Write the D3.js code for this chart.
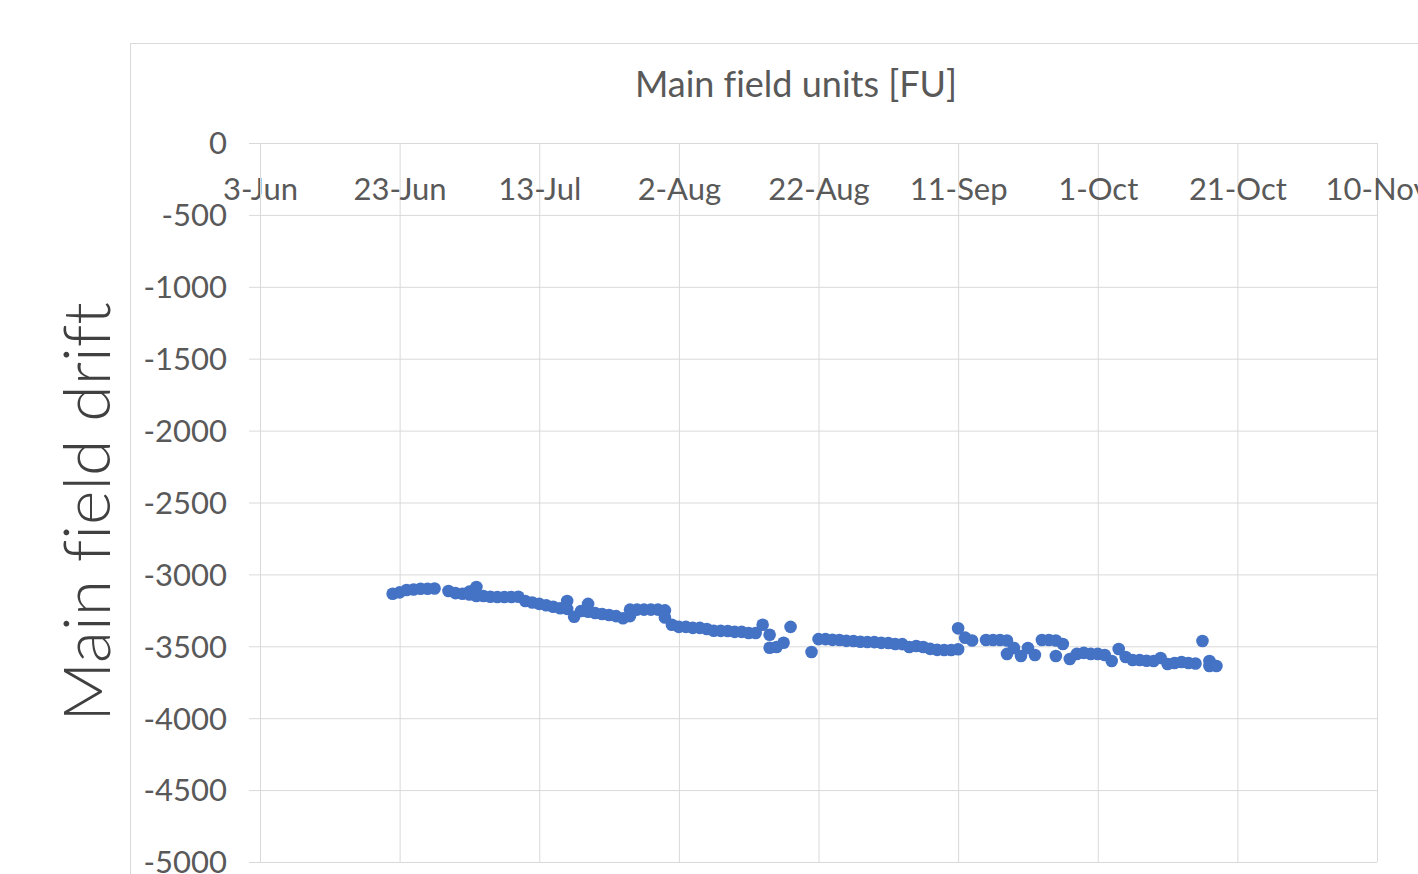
<!DOCTYPE html>
<html>
<head>
<meta charset="utf-8">
<script src="https://cdn.jsdelivr.net/npm/d3@7"></script>
<style>
  html, body { margin: 0; padding: 0; background: #ffffff; }
  svg { display: block; }
  text { font-variant-ligatures: none; }
</style>
</head>
<body>
<script>
// ---- data ----
const chartTitle = "Main field units [FU]";
const yAxisTitle = "Main field drift";
const dates = [
  "2021-06-22","2021-06-23","2021-06-24","2021-06-25","2021-06-26","2021-06-27","2021-06-28",
  "2021-06-30","2021-07-01","2021-07-02","2021-07-03","2021-07-03","2021-07-04","2021-07-04",
  "2021-07-05","2021-07-06","2021-07-07","2021-07-08","2021-07-09","2021-07-10","2021-07-11",
  "2021-07-12","2021-07-13","2021-07-14","2021-07-15","2021-07-16","2021-07-17","2021-07-17",
  "2021-07-18","2021-07-19","2021-07-20","2021-07-20","2021-07-21","2021-07-22","2021-07-23",
  "2021-07-24","2021-07-25","2021-07-26","2021-07-26","2021-07-27","2021-07-28","2021-07-29",
  "2021-07-30","2021-07-31","2021-07-31","2021-08-01","2021-08-02","2021-08-03","2021-08-04",
  "2021-08-05","2021-08-06","2021-08-07","2021-08-08","2021-08-09","2021-08-10","2021-08-11",
  "2021-08-12","2021-08-13","2021-08-14","2021-08-15","2021-08-15","2021-08-16","2021-08-17",
  "2021-08-18","2021-08-21","2021-08-22","2021-08-23","2021-08-24","2021-08-25","2021-08-26",
  "2021-08-27","2021-08-28","2021-08-29","2021-08-30","2021-08-31","2021-09-01","2021-09-02",
  "2021-09-03","2021-09-04","2021-09-05","2021-09-06","2021-09-07","2021-09-08","2021-09-09",
  "2021-09-10","2021-09-11","2021-09-11","2021-09-12","2021-09-13","2021-09-15","2021-09-16",
  "2021-09-17","2021-09-18","2021-09-18","2021-09-19","2021-09-20","2021-09-21","2021-09-22",
  "2021-09-23","2021-09-24","2021-09-25","2021-09-25","2021-09-26","2021-09-27","2021-09-28",
  "2021-09-29","2021-09-30","2021-10-01","2021-10-02","2021-10-03","2021-10-04","2021-10-05",
  "2021-10-06","2021-10-07","2021-10-08","2021-10-09","2021-10-10","2021-10-11","2021-10-12",
  "2021-10-13","2021-10-14","2021-10-15","2021-10-16","2021-10-17","2021-10-17","2021-10-18"
];
const drift = [
  -3135,-3125,-3108,-3105,-3100,-3100,-3098,
  -3115,-3130,-3135,-3120,-3140,-3088,-3150,
  -3150,-3155,-3157,-3157,-3157,-3155,-3185,
  -3195,-3205,-3215,-3225,-3235,-3185,-3240,
  -3295,-3255,-3205,-3260,-3268,-3275,-3282,
  -3290,-3305,-3245,-3290,-3245,-3245,-3245,
  -3245,-3250,-3300,-3350,-3365,-3365,-3372,
  -3372,-3380,-3392,-3393,-3394,-3400,-3400,
  -3407,-3408,-3350,-3420,-3510,-3505,-3475,
  -3365,-3540,-3450,-3450,-3455,-3456,-3462,
  -3463,-3468,-3470,-3471,-3476,-3477,-3484,
  -3485,-3505,-3498,-3505,-3518,-3525,-3526,
  -3526,-3520,-3375,-3440,-3460,-3456,-3456,
  -3456,-3460,-3553,-3512,-3567,-3512,-3560,
  -3456,-3456,-3460,-3567,-3484,-3588,-3553,
  -3546,-3553,-3553,-3560,-3602,-3519,-3574,
  -3595,-3595,-3600,-3602,-3581,-3623,-3616,
  -3609,-3616,-3620,-3463,-3602,-3637,-3637
];
const xTickDates = ["2021-06-03","2021-06-23","2021-07-13","2021-08-02","2021-08-22","2021-09-11","2021-10-01","2021-10-21","2021-11-10"];
const xTickLabels = ["3-Jun","23-Jun","13-Jul","2-Aug","22-Aug","11-Sep","1-Oct","21-Oct","10-Nov"];
const yTickValues = [0,-500,-1000,-1500,-2000,-2500,-3000,-3500,-4000,-4500,-5000];
const yTickLabels = ["0","-500","-1000","-1500","-2000","-2500","-3000","-3500","-4000","-4500","-5000"];

// ---- layout ----
const W = 1418, H = 874;
const parse = d3.utcParse("%Y-%m-%d");
const svg = d3.select("body").append("svg").attr("width", W).attr("height", H);

const x = d3.scaleUtc()
  .domain([parse(xTickDates[0]), parse(xTickDates[xTickDates.length - 1])])
  .range([260, 1377]);
const y = d3.scaleLinear().domain([-5000, 0]).range([862, 143]);

const textColor = "#595959";
const gridColor = "#d9d9d9";
const font = "Lato, 'Open Sans', sans-serif";

// outer chart border
svg.append("rect")
  .attr("x", 130.5).attr("y", 43.5)
  .attr("width", 1400).attr("height", 900)
  .attr("fill", "none").attr("stroke", gridColor).attr("stroke-width", 1);

// horizontal gridlines + y labels via y axis
const yAxis = d3.axisLeft(y).tickValues(yTickValues).tickSize(11)
  .tickFormat((d, i) => yTickLabels[i]);
const gy = svg.append("g").attr("transform", "translate(260,0)").call(yAxis);
gy.selectAll(".tick line").attr("stroke", gridColor);
gy.selectAll(".tick").append("line")
  .attr("x1", 0).attr("x2", 1377 - 260)
  .attr("stroke", gridColor);
gy.selectAll(".tick text")
  .attr("x", -33)
  .attr("dy", "0.35em")
  .attr("fill", textColor)
  .style("font-family", font)
  .style("font-size", "31px");

// vertical gridlines + x tick labels via x axis
const xAxis = d3.axisBottom(x)
  .tickValues(xTickDates.map(parse))
  .tickSize(862 - 143)
  .tickFormat((d, i) => xTickLabels[i]);
const gx = svg.append("g").attr("transform", "translate(0,143)").call(xAxis);
gx.selectAll(".tick line").attr("stroke", gridColor);
gx.selectAll(".tick text")
  .attr("y", 46)
  .attr("dy", "0.35em")
  .attr("fill", textColor)
  .style("font-family", font)
  .style("font-size", "31px");
svg.selectAll(".domain").remove();
// axis lines
svg.append("line").attr("x1", 260).attr("x2", 1377).attr("y1", 143.5).attr("y2", 143.5).attr("stroke", gridColor);
svg.append("line").attr("x1", 260.5).attr("x2", 260.5).attr("y1", 143).attr("y2", 862).attr("stroke", gridColor);

// title
svg.append("text")
  .attr("x", 796).attr("y", 97)
  .attr("text-anchor", "middle")
  .attr("fill", textColor)
  .style("font-family", font)
  .style("font-size", "36px")
  .text(chartTitle);

// y axis title
svg.append("text")
  .attr("transform", "translate(110,512) rotate(-90)")
  .attr("text-anchor", "middle")
  .attr("fill", "#404040")
  .style("font-family", font)
  .style("font-weight", 300)
  .style("font-size", "66px")
  .text(yAxisTitle);

// points
const points = dates.map((d, i) => ({ date: parse(d), value: drift[i] }));
svg.append("g").selectAll("circle")
  .data(points)
  .join("circle")
  .attr("cx", d => x(d.date))
  .attr("cy", d => y(d.value))
  .attr("r", 6.3)
  .attr("fill", "#4472C4");
</script>
</body>
</html>
